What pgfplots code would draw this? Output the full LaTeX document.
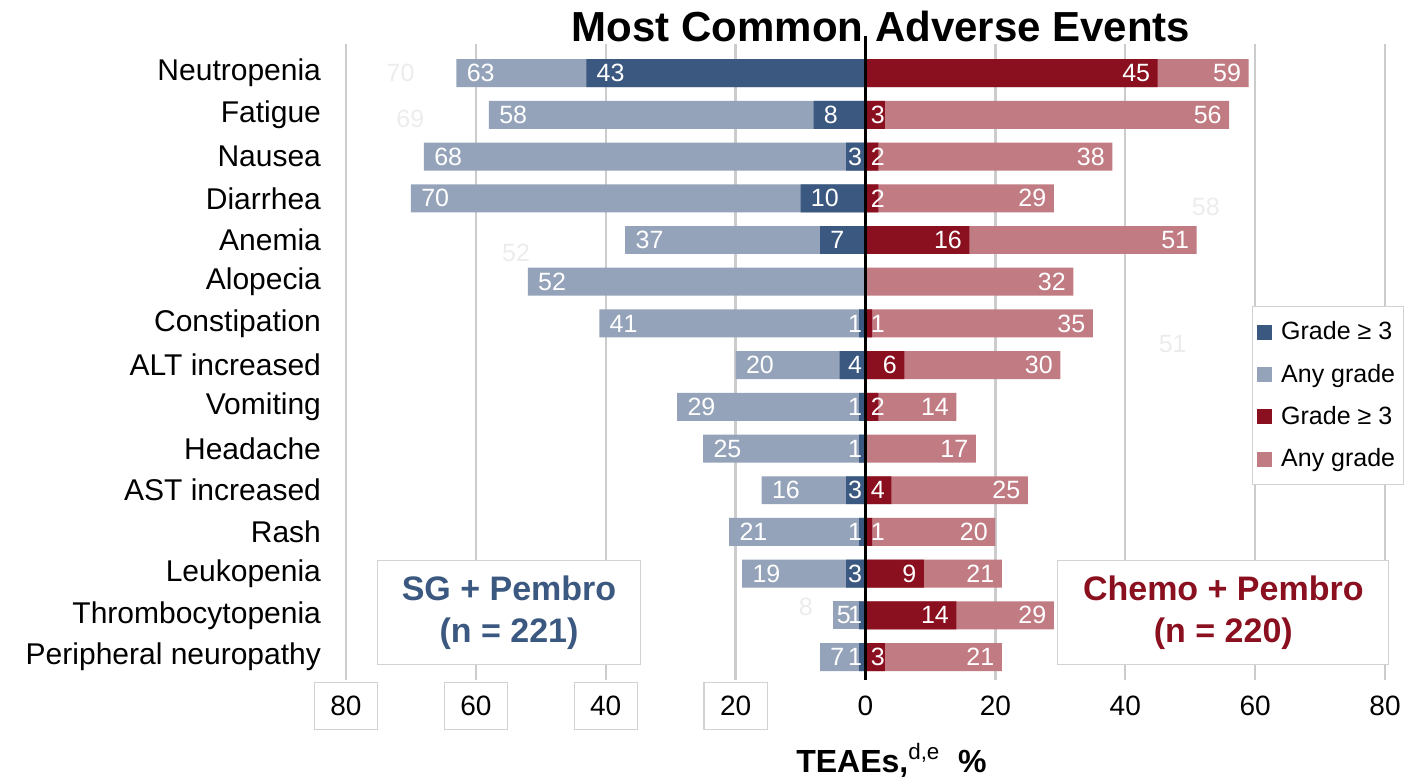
\documentclass[border=0pt]{standalone}
\usepackage{fontspec}
\setmainfont{Liberation Sans}
\usepackage{pgfplots}
\pgfplotsset{compat=1.18}
\definecolor{dblue}{HTML}{3B5880}
\definecolor{lblue}{HTML}{94A3B9}
\definecolor{dred}{HTML}{8A1020}
\definecolor{lred}{HTML}{C17B83}
\definecolor{gridc}{HTML}{CCCCCC}
\newcommand\tbox[1]{{\setlength\fboxsep{0pt}\setlength\fboxrule{0.6pt}\fcolorbox{gray!35}{white}{\parbox[c][23pt][c]{31pt}{\centering #1}}}}
\pgfplotsset{
  lbl/.style={point meta=explicit symbolic, forget plot,
    every node near coord/.append style={inner sep=0pt, anchor=west, text=white, font=\fontsize{12.5}{15}\selectfont}},
  lbar/.style={xbar, bar width=0.67, bar shift=0pt, draw=none, lbl,
    nodes near coords={\makebox[0pt][l]{\hspace{4.5pt}\pgfplotspointmeta}}},
  rbar/.style={xbar, bar width=0.67, bar shift=0pt, draw=none, lbl,
    nodes near coords={\makebox[0pt][r]{\pgfplotspointmeta\hspace{4.5pt}}}},
  plainbar/.style={xbar, bar width=0.67, bar shift=0pt, draw=none, forget plot},
  lsmall/.style={draw=none, mark=none, lbl,
    nodes near coords={\makebox[0pt][r]{\pgfplotspointmeta\hspace{2.5pt}}}},
  rsmall/.style={draw=none, mark=none, lbl,
    nodes near coords={\makebox[0pt][l]{\hspace{2pt}\pgfplotspointmeta}}},
  sq/.style={legend image code/.code={\fill[#1] (0pt,-3.5pt) rectangle (7pt,3.5pt); \path[draw=none,fill=none] (0pt,-3.5pt) rectangle (10pt,3.5pt);}},
}
\begin{document}
\begin{tikzpicture}
\begin{axis}[
  at={(173pt,50.5pt)}, anchor=south west,
  scale only axis, width=519.5pt, height=318pt,
  xmin=-80, xmax=80, ymin=-0.55, ymax=14.7,
  clip=false,
  axis line style={draw=none},
  tick style={draw=none},
  xtick={-80,-60,-40,-20,0,20,40,60,80},
  xticklabels={\tbox{80},\tbox{60},\tbox{40},\tbox{20},0,20,40,60,80},
  xticklabel style={anchor=center, yshift=-13pt, font=\fontsize{14}{16}\selectfont},
  /pgf/number format/assume math mode=true,
  ytick={0,...,14},
  yticklabels={Peripheral neuropathy,Thrombocytopenia,Leukopenia,Rash,AST increased,Headache,Vomiting,ALT increased,Constipation,Alopecia,Anemia,Diarrhea,Nausea,Fatigue,Neutropenia},
  yticklabel style={font=\fontsize{15}{17}\selectfont, xshift=-9pt},
  xmajorgrids, major grid style={draw=gridc, line width=1.2pt},
  legend style={at={(0.872,0.588)}, anchor=north west, draw=gray!35, line width=0.6pt, fill=white,
    font=\fontsize{12.5}{15}\selectfont, row sep=6.6pt, inner xsep=2pt, inner ysep=5.5pt, cells={anchor=west}},
]
\addlegendimage{sq=dblue}
\addlegendentry{Grade ≥ 3}
\addlegendimage{sq=lblue}
\addlegendentry{Any grade}
\addlegendimage{sq=dred}
\addlegendentry{Grade ≥ 3}
\addlegendimage{sq=lred}
\addlegendentry{Any grade}

% SG + Pembro, any grade
\addplot[lbar, fill=lblue] coordinates {
 (-63,14)[63] (-58,13)[58] (-68,12)[68] (-70,11)[70] (-37,10)[37] (-52,9)[52] (-41,8)[41]
 (-20,7)[20] (-29,6)[29] (-25,5)[25] (-16,4)[16] (-21,3)[21] (-19,2)[19] (-7,0)[7]};
\addplot[xbar, bar width=0.67, bar shift=0pt, draw=none, lbl, fill=lblue,
    nodes near coords={\makebox[0pt][l]{\hspace{1.2pt}\pgfplotspointmeta}}] coordinates {(-5,1)[5]};
% SG + Pembro, grade >= 3 (labelled at bar end)
\addplot[lbar, fill=dblue] coordinates {
 (-43,14)[43] (-8,13)[8] (-10,11)[10] (-7,10)[7]};
% SG + Pembro, grade >= 3 (small bars, labelled next to zero)
\addplot[plainbar, fill=dblue] coordinates {
 (-3,12) (-1,8) (-4,7) (-1,6) (-1,5) (-3,4) (-1,3) (-3,2) (-1,1) (-1,0)};
\addplot[lsmall] coordinates {
 (0,12)[3] (0,8)[1] (0,7)[4] (0,6)[1] (0,5)[1] (0,4)[3] (0,3)[1] (0,2)[3] (0,1)[1] (0,0)[1]};
% Chemo + Pembro, any grade
\addplot[rbar, fill=lred] coordinates {
 (59,14)[59] (56,13)[56] (38,12)[38] (29,11)[29] (51,10)[51] (32,9)[32] (35,8)[35]
 (30,7)[30] (14,6)[14] (17,5)[17] (25,4)[25] (20,3)[20] (21,2)[21] (29,1)[29] (21,0)[21]};
% Chemo + Pembro, grade >= 3 (labelled at bar end)
\addplot[rbar, fill=dred] coordinates {
 (45,14)[45] (16,10)[16] (6,7)[6] (9,2)[9] (14,1)[14]};
% Chemo + Pembro, grade >= 3 (small bars, labelled next to zero)
\addplot[plainbar, fill=dred] coordinates {
 (3,13) (2,12) (2,11) (1,8) (2,6) (4,4) (1,3) (3,0)};
\addplot[rsmall] coordinates {
 (0,13)[3] (0,12)[2] (0,11)[2] (0,8)[1] (0,6)[2] (0,4)[4] (0,3)[1] (0,0)[3]};

\draw[black, line width=1.3pt] (axis cs:0,14.9) -- (axis cs:0,-0.55);

% faint ghost labels
\begin{scope}[every node/.style={text=gray!15, font=\fontsize{12.5}{15}\selectfont}]
\node at (axis cs:-71.6,14) {70};
\node at (axis cs:-70.1,12.9) {69};
\node at (axis cs:-53.8,9.7) {52};
\node at (axis cs:52.4,10.8) {58};
\node at (axis cs:47.3,7.5) {51};
\node at (axis cs:-9.2,1.2) {8};
\end{scope}

\node[draw=gray!35, fill=white, line width=0.6pt, minimum width=131.5pt, minimum height=52pt,
  align=center, text=dblue, font=\bfseries\fontsize{17}{21}\selectfont] at (axis cs:-54.9,1.07) {SG + Pembro\\(n = 221)};
\node[draw=gray!35, fill=white, line width=0.6pt, minimum width=165.5pt, minimum height=52pt,
  align=center, text=dred, font=\bfseries\fontsize{17}{21}\selectfont] at (axis cs:55.1,1.07) {Chemo + Pembro\\(n = 220)};

\node[font=\bfseries\fontsize{21}{25}\selectfont] at (rel axis cs:0.515,1.027) {Most Common Adverse Events};
\node[font=\bfseries\fontsize{16}{19}\selectfont] at (rel axis cs:0.525,-0.126) {TEAEs,\textsuperscript{\mdseries d,e}\ \ \%};
\end{axis}
\pgfresetboundingbox
\path (0,0) rectangle (702.5pt,390.5pt);
\end{tikzpicture}
\end{document}
